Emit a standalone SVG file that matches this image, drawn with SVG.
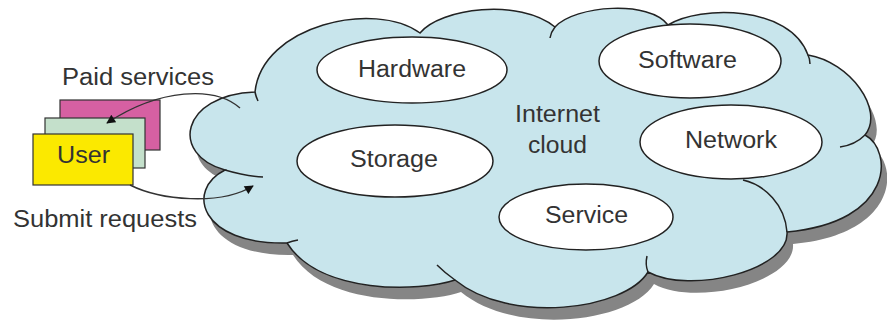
<svg xmlns="http://www.w3.org/2000/svg" width="887" height="331" viewBox="0 0 887 331">
<defs>
<style>
.lbl{font-family:"Liberation Sans",Arial,sans-serif;font-size:23px;fill:#333}
.cl{fill:#c8e5ec;stroke:#222;stroke-width:1.5}
.tail{fill:none;stroke:#222;stroke-width:1.5}
.el{fill:#fff;stroke:#222;stroke-width:1.5}
.box{stroke:#333;stroke-width:1.2}
.con{fill:none;stroke:#333;stroke-width:1.4}
</style>
<path id="cloudShape" d="M255,92 C262,25 375,0 420,33 C440,8 520,-2 555,27 C575,5 650,0 668,25 C700,5 790,5 808,55 C850,62 885,110 865,135 C893,150 895,222 787,232 C790,270 690,295 648,272 C625,310 510,325 455,280 C420,292 320,295 287,243 C200,245 185,190 225,170 C170,155 180,95 255,92 Z"/>
<marker id="ah" viewBox="0 0 10 10" refX="9" refY="5" markerWidth="10" markerHeight="9" markerUnits="userSpaceOnUse" orient="auto">
<path d="M0,0 L10,5 L0,10 Z" fill="#111"/>
</marker>
</defs>
<rect width="887" height="331" fill="#fff"/>
<g id="cloud">
<use href="#cloudShape" transform="translate(6,12)" fill="#858585"/>
<use href="#cloudShape" class="cl"/>
<path class="tail" d="M255,92 Q256,97 258,101"/>
<path class="tail" d="M555,27 Q551,32 550,38"/>
<path class="tail" d="M808,55 Q810,59 810,64"/>
<path class="tail" d="M865,135 Q855,145 840,147"/>
<path class="tail" d="M787,232 C785,205 765,185 743,180"/>
<path class="tail" d="M648,272 Q645,265 647,256"/>
<path class="tail" d="M455,280 Q445,273 437,265"/>
<path class="tail" d="M287,243 Q292,241 298,240"/>
<path class="tail" d="M225,170 Q245,176 263,177"/>
<text class="lbl" x="515" y="122" textLength="85" lengthAdjust="spacingAndGlyphs">Internet</text>
<text class="lbl" x="528" y="153" textLength="59" lengthAdjust="spacingAndGlyphs">cloud</text>
</g>
<g id="hardware">
<ellipse class="el" cx="412" cy="70" rx="95" ry="33"/>
<text class="lbl" x="358" y="77" textLength="108" lengthAdjust="spacingAndGlyphs">Hardware</text>
</g>
<g id="storage">
<ellipse class="el" cx="395" cy="161" rx="98" ry="36"/>
<text class="lbl" x="350" y="167" textLength="88" lengthAdjust="spacingAndGlyphs">Storage</text>
</g>
<g id="software">
<ellipse class="el" cx="690" cy="61" rx="91" ry="37"/>
<text class="lbl" x="638" y="68" textLength="99" lengthAdjust="spacingAndGlyphs">Software</text>
</g>
<g id="network">
<ellipse class="el" cx="731" cy="142" rx="91" ry="37"/>
<text class="lbl" x="685" y="148" textLength="92" lengthAdjust="spacingAndGlyphs">Network</text>
</g>
<g id="service">
<ellipse class="el" cx="586" cy="217" rx="87" ry="33"/>
<text class="lbl" x="545" y="223" textLength="83" lengthAdjust="spacingAndGlyphs">Service</text>
</g>
<g id="user">
<rect class="box" x="60" y="100" width="100" height="50" fill="#d660a2"/>
<rect class="box" x="45" y="118" width="100" height="50" fill="#c4e0cb"/>
<rect class="box" x="33" y="134" width="100" height="51" fill="#fbe900"/>
<text class="lbl" x="57" y="163" textLength="53" lengthAdjust="spacingAndGlyphs">User</text>
</g>
<g id="connectors">
<path class="con" d="M240,108 C215,86 160,88 107,123" marker-end="url(#ah)"/>
<path class="con" d="M130,185 C160,200 220,206 253,186" marker-end="url(#ah)"/>
</g>
<g id="labels">
<text class="lbl" x="62" y="85" textLength="152" lengthAdjust="spacingAndGlyphs">Paid services</text>
<text class="lbl" x="13" y="227" textLength="184" lengthAdjust="spacingAndGlyphs">Submit requests</text>
</g>
</svg>
